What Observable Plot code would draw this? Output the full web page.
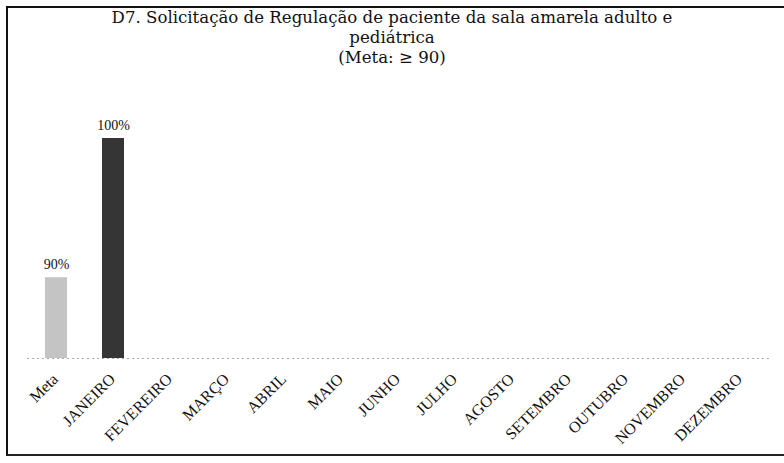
<!DOCTYPE html>
<html>
<head>
<meta charset="utf-8">
<script src="https://cdn.jsdelivr.net/npm/d3@7"></script>
<script src="https://cdn.jsdelivr.net/npm/@observablehq/plot@0.6"></script>
<style>
  html, body { margin: 0; padding: 0; background: #fff; }
  #wrap { position: relative; width: 784px; height: 463px; overflow: hidden; font-family: "Liberation Serif", serif; }
  #frame { position: absolute; left: 6px; top: 6px; width: 790px; height: 450px; border-left: 2px solid #111; border-top: 2px solid #111; border-bottom: 2px solid #222; box-sizing: border-box; }
  #title { position: absolute; left: 0; width: 784px; top: 8px; text-align: center; font-family: "DejaVu Serif", serif; font-size: 16.6px; line-height: 20px; color: #111; }
  #chart { position: absolute; left: 0; top: 0; }
</style>
</head>
<body>
<div id="wrap">
  <div id="frame"></div>
  <div id="title">D7. Solicitação de Regulação de paciente da sala amarela adulto e<br>pediátrica<br>(Meta: ≥ 90)</div>
  <div id="chart"></div>
</div>
<script>
const categories = ["Meta","JANEIRO","FEVEREIRO","MARÇO","ABRIL","MAIO","JUNHO","JULHO","AGOSTO","SETEMBRO","OUTUBRO","NOVEMBRO","DEZEMBRO"];
const values = [90, 100, null, null, null, null, null, null, null, null, null, null, null];
const valueLabels = ["90%", "100%", "", "", "", "", "", "", "", "", "", "", ""];
const barColors = ["#c4c4c4", "#353535"];

const yMin = 84.2;
const data = categories.map((c, i) => ({cat: c, value: values[i], label: valueLabels[i], color: barColors[Math.min(i, 1)]}))
  .filter(d => d.value != null);

const chart = Plot.plot({
  width: 784,
  height: 463,
  marginLeft: 27,
  marginRight: 15,
  marginTop: 138,
  marginBottom: 105,
  style: {fontFamily: "Liberation Serif, serif", background: "transparent"},
  x: {domain: categories, paddingInner: 0.61, paddingOuter: 0.305, label: null},
  y: {domain: [yMin, 100], axis: null},
  marks: [
    Plot.ruleY([yMin], {stroke: "#aaa", strokeDasharray: "2,3", strokeWidth: 1}),
    Plot.barY(data, {x: "cat", y1: yMin, y2: "value", fill: "color"}),
    Plot.text(data, {x: "cat", y: "value", text: "label", dy: -13, fontSize: 14, fill: "#111"}),
    Plot.axisX({tickSize: 0, tickRotate: -45, tickPadding: 12, dx: -1, dy: 6, fontSize: 16, fill: "#111", label: null})
  ]
});
document.getElementById("chart").appendChild(chart);
</script>
</body>
</html>
